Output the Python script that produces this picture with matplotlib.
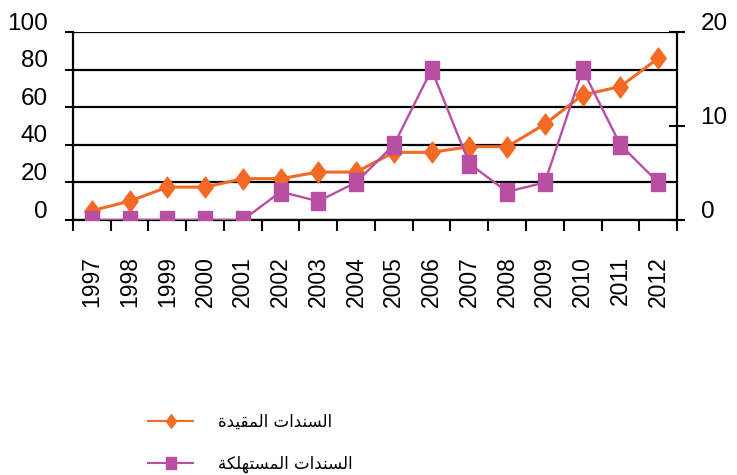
import numpy as np
import matplotlib
matplotlib.use('Agg')
import matplotlib.pyplot as plt
from matplotlib.transforms import ScaledTranslation
from matplotlib.path import Path

# data
years = ['1997', '1998', '1999', '2000', '2001', '2002', '2003', '2004',
         '2005', '2006', '2007', '2008', '2009', '2010', '2011', '2012']
bound = [5, 10, 17.5, 17.5, 22, 22, 25.5, 25.5, 36, 36, 39, 39, 51, 66.5, 71, 86]   # left axis
redeemed = [0, 0, 0, 0, 0, 3, 2, 4, 8, 16, 6, 3, 4, 16, 8, 4]                      # right axis
label_bound = 'السندات المقيدة'
label_redeemed = 'السندات المستهلكة'

orange = '#F26A24'
purple = '#B84FA3'

# matplotlib has no arabic shaping, so map to presentation forms and reverse
forms = {
    'ا': ('\uFE8D', '\uFE8E', None, None),
    'د': ('\uFEA9', '\uFEAA', None, None),
    'ة': ('\uFE93', '\uFE94', None, None),
    'ت': ('\uFE95', '\uFE96', '\uFE97', '\uFE98'),
    'س': ('\uFEB1', '\uFEB2', '\uFEB3', '\uFEB4'),
    'ق': ('\uFED5', '\uFED6', '\uFED7', '\uFED8'),
    'ك': ('\uFED9', '\uFEDA', '\uFEDB', '\uFEDC'),
    'ل': ('\uFEDD', '\uFEDE', '\uFEDF', '\uFEE0'),
    'م': ('\uFEE1', '\uFEE2', '\uFEE3', '\uFEE4'),
    'ن': ('\uFEE5', '\uFEE6', '\uFEE7', '\uFEE8'),
    'ه': ('\uFEE9', '\uFEEA', '\uFEEB', '\uFEEC'),
    'ي': ('\uFEF1', '\uFEF2', '\uFEF3', '\uFEF4'),
}

def shape(s):
    out = []
    for i, ch in enumerate(s):
        if ch not in forms:
            out.append(ch)
            continue
        prev = s[i - 1] if i > 0 else ''
        nxt = s[i + 1] if i + 1 < len(s) else ''
        jp = prev in forms and forms[prev][2] is not None
        jn = forms[ch][2] is not None and nxt in forms
        iso, fin, ini, med = forms[ch]
        if jp and jn:
            out.append(med)
        elif jp:
            out.append(fin)
        elif jn:
            out.append(ini)
        else:
            out.append(iso)
    return ''.join(reversed(out))

# the original is squeezed sideways, so the markers are a bit tall
tall_diamond = Path([(0, 1), (0.74, 0), (0, -1), (-0.74, 0), (0, 1)], closed=True)
tall_square = Path([(-0.84, -1), (0.84, -1), (0.84, 1), (-0.84, 1), (-0.84, -1)], closed=True)

plt.rcParams['font.family'] = ['Liberation Sans', 'DejaVu Sans']

fig = plt.figure(figsize=(7.37, 4.75), dpi=100)
ax = fig.add_axes([0.099, 0.5368, 0.8196, 0.3958])
x = np.arange(len(years))

l1, = ax.plot(x, bound, color=orange, marker=tall_diamond, ms=15, lw=2.2, zorder=3,
              label=shape(label_bound))
ax.set_xlim(-0.5, len(years) - 0.5)
ax.set_ylim(0, 100)
ax.set_yticks(range(0, 101, 20))
ax.grid(axis='y', color='black', lw=1.6)
ax.set_axisbelow(True)
ax.set_xticks(x)
ax.set_xticklabels(years, rotation=90, fontsize=16.5)
ax.set_xticks(np.arange(-0.5, len(years), 1), minor=True)
ax.tick_params(axis='x', which='major', length=0, pad=26)
ax.tick_params(axis='x', which='minor', length=8, width=1.5, direction='out')
ax.tick_params(axis='y', length=6, width=1.5, pad=12, labelsize=17.5)
for s in ['top', 'right']:
    ax.spines[s].set_visible(False)
for s in ['left', 'bottom']:
    ax.spines[s].set_linewidth(1.6)

ax2 = ax.twinx()
l2, = ax2.plot(x, redeemed, color=purple, marker=tall_square, ms=12.5, lw=1.7, zorder=3,
               label=shape(label_redeemed))
ax2.set_ylim(0, 20)
ax2.set_yticks([0, 10, 20])
ax2.tick_params(axis='y', direction='inout', length=12, width=1.5, pad=11, labelsize=17.5)
for s in ['top', 'left', 'bottom']:
    ax2.spines[s].set_visible(False)
ax2.spines['right'].set_linewidth(1.6)

# tick labels sit a bit above their lines in the original
up = ScaledTranslation(0, 11 / 100, fig.dpi_scale_trans)
for lab in ax.get_yticklabels() + ax2.get_yticklabels():
    lab.set_transform(lab.get_transform() + up)

leg = fig.legend(handles=[l1, l2], loc='upper left', bbox_to_anchor=(148 / 737, 1 - 413 / 475),
                 frameon=False, prop={'family': 'DejaVu Sans', 'size': 12},
                 handlelength=2.7, handletextpad=1.5, labelspacing=1.45,
                 borderpad=0, borderaxespad=0, markerscale=0.65)
for h in leg.legend_handles:
    h.set_linewidth(1.5)

fig.savefig('out.png', dpi=100)
